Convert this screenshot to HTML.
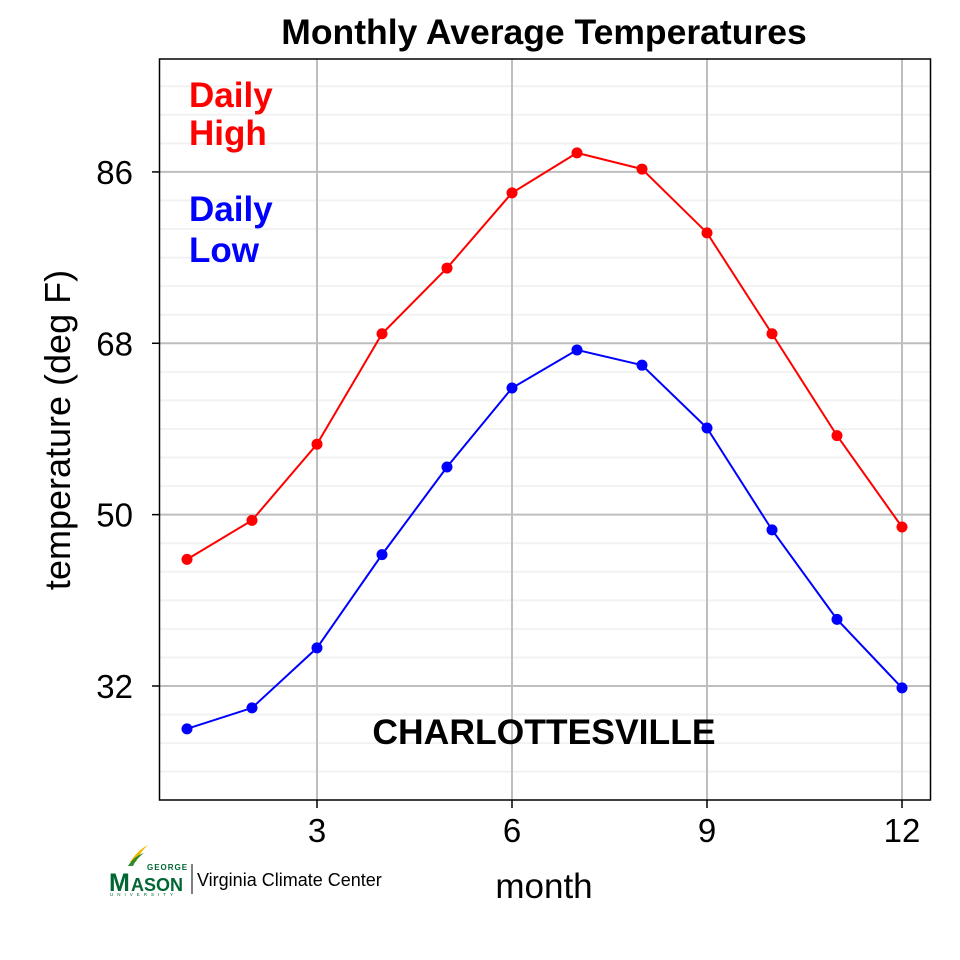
<!DOCTYPE html>
<html><head><meta charset="utf-8"><style>
html,body{margin:0;padding:0;background:#fff;width:960px;height:960px;overflow:hidden}
text{font-family:"Liberation Sans",Arial,sans-serif}
</style></head><body>
<svg id="chart" width="960" height="960" viewBox="0 0 960 960" xmlns="http://www.w3.org/2000/svg">
<rect width="960" height="960" fill="#fff"/>
<g id="grid"></g>
<g id="series"></g>
<rect x="159.5" y="59" width="771" height="741" fill="none" stroke="#000" stroke-width="1.5"/>
<g id="axes"></g>
<text x="544" y="44" font-size="35.5" font-weight="bold" text-anchor="middle">Monthly Average Temperatures</text>
<text x="544" y="898" font-size="35" text-anchor="middle">month</text>
<text transform="translate(70,430) rotate(-90)" font-size="36" text-anchor="middle">temperature (deg F)</text>
<text x="189" y="107" font-size="35" font-weight="bold" fill="#f00">Daily</text>
<text x="189" y="145" font-size="35" font-weight="bold" fill="#f00">High</text>
<text x="189" y="221" font-size="35" font-weight="bold" fill="#00f">Daily</text>
<text x="189" y="262" font-size="35" font-weight="bold" fill="#00f">Low</text>
<text x="544" y="744" font-size="35.5" font-weight="bold" text-anchor="middle">CHARLOTTESVILLE</text>
<g>
<path d="M130 862 Q138 850 148 845 Q140 852 136 862 Z" fill="#f2b800"/>
<path d="M128 866 Q134 856 144 853 Q136 859 133 866 Z" fill="#2e8b2e"/>
<text x="147" y="870" font-size="8" font-weight="bold" fill="#006633" letter-spacing="1">GEORGE</text>
<text x="109" y="891" font-size="25" font-weight="bold" fill="#006633" font-family="Liberation Serif,serif">M</text>
<text x="131" y="891" font-size="18" font-weight="bold" fill="#006633" font-family="Liberation Serif,serif">ASON</text>
<text x="110" y="896" font-size="4.5" fill="#006633" letter-spacing="4">UNIVERSITY</text>
<line x1="192" y1="864" x2="192" y2="894" stroke="#000" stroke-width="1"/>
<text x="197" y="886" font-size="18" fill="#000">Virginia Climate Center</text>
</g>
</svg>
<script>
const months=[1,2,3,4,5,6,7,8,9,10,11,12];
const highs=[45.3,49.4,57.4,69.0,75.9,83.8,88.0,86.3,79.6,69.0,58.3,48.7];
const lows=[27.5,29.7,36.0,45.8,55.0,63.3,67.3,65.7,59.1,48.4,39.0,31.8];
const yTicks=[32,50,68,86];
const xTicks=[3,6,9,12];
const NS="http://www.w3.org/2000/svg";
function xs(m){return 317+(m-3)*65;}
function ys(v){return 686-(v-32)*9.52;}
function mk(tag,attrs,parent){const e=document.createElementNS(NS,tag);for(const k in attrs)e.setAttribute(k,attrs[k]);parent.appendChild(e);return e;}
const grid=document.getElementById('grid'),series=document.getElementById('series'),axes=document.getElementById('axes');
for(let v=20;v<=95;v+=3){if(yTicks.includes(v))continue;const y=ys(v);if(y<59||y>800)continue;
const l=mk('line',{x1:160,x2:930,y1:y,y2:y,stroke:'#f2f2f2','stroke-width':2},grid);

}
yTicks.forEach(v=>{const y=ys(v);
const l=mk('line',{x1:160,x2:930,y1:y,y2:y,stroke:'#bebebe','stroke-width':2},grid);


const t=mk('line',{x1:152,x2:160,y1:y,y2:y,stroke:'#000','stroke-width':1.5},axes);


const tx=mk('text',{x:133,y:y+12,'font-size':33,'text-anchor':'end'},axes);tx.textContent=v;

});
xTicks.forEach(m=>{const x=xs(m);
const l=mk('line',{x1:x,x2:x,y1:59,y2:800,stroke:'#bebebe','stroke-width':2},grid);


const t=mk('line',{x1:x,x2:x,y1:800,y2:808,stroke:'#000','stroke-width':1.5},axes);


const tx=mk('text',{x:x,y:842,'font-size':33,'text-anchor':'middle'},axes);tx.textContent=m;

});
function draw(vals,color,name){
const pts=months.map((m,i)=>xs(m)+','+ys(vals[i])).join(' ');
const pl=mk('polyline',{points:pts,fill:'none',stroke:color,'stroke-width':2},series);


months.forEach((m,i)=>{const c=mk('circle',{cx:xs(m),cy:ys(vals[i]),r:5.5,fill:color},series);

});}
draw(highs,'#f00','high');
draw(lows,'#00f','low');
</script>
</body></html>
